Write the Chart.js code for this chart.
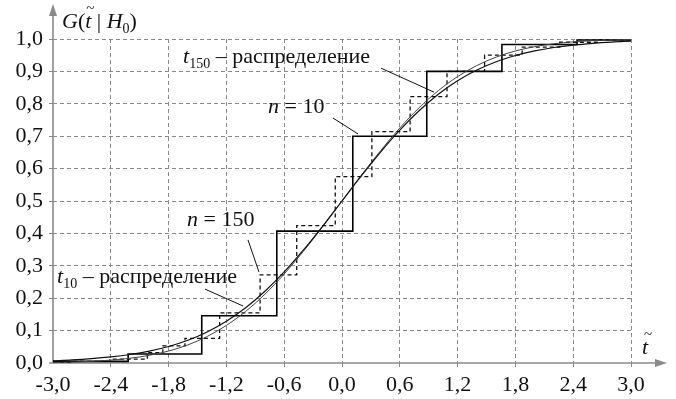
<!DOCTYPE html>
<html><head><meta charset="utf-8">
<script src="https://cdn.jsdelivr.net/npm/chart.js@4/dist/chart.umd.min.js"></script>
<style>html,body{margin:0;padding:0;background:#fff}#wrap{width:676px;height:399px;position:relative}</style>
</head><body><div id="wrap"><canvas id="c" width="676" height="399"></canvas></div>
<script>
// ---- tick labels ----
const xTickValues = [-3.0, -2.4, -1.8, -1.2, -0.6, 0.0, 0.6, 1.2, 1.8, 2.4, 3.0];
const yTickValues = [0.0, 0.1, 0.2, 0.3, 0.4, 0.5, 0.6, 0.7, 0.8, 0.9, 1.0];

// ---- smooth curves ----
const curveT = [-3.0,-2.8,-2.6,-2.4,-2.2,-2.0,-1.8,-1.6,-1.4,-1.2,-1.0,-0.8,-0.6,-0.4,-0.2,0.0,
                0.2,0.4,0.6,0.8,1.0,1.2,1.4,1.6,1.8,2.0,2.2,2.4,2.6,2.8,3.0];
const cdfT10 = [0.0067,0.0094,0.0133,0.0187,0.0262,0.0367,0.0510,0.0703,0.0959,0.1290,0.1704,0.2214,0.2810,0.3488,0.4227,0.5000,
                0.5773,0.6512,0.7190,0.7786,0.8296,0.8710,0.9041,0.9297,0.9490,0.9633,0.9738,0.9813,0.9867,0.9906,0.9933];
const cdfT150 = [0.0016,0.0029,0.0051,0.0088,0.0147,0.0237,0.0369,0.0559,0.0818,0.1160,0.1594,0.2124,0.2747,0.3449,0.4209,0.5000,
                 0.5791,0.6551,0.7253,0.7876,0.8406,0.8840,0.9182,0.9441,0.9631,0.9763,0.9853,0.9912,0.9949,0.9971,0.9984];

// ---- empirical step functions: level holds from each jump to the next ----
const n10Jumps  = [-3.0, -2.22, -1.456, -0.677, 0.112, 0.88, 1.66, 2.44, 3.0];
const n10Levels = [0.005, 0.028, 0.146, 0.407, 0.700, 0.900, 0.983, 0.997, 0.997];
const n150Jumps  = [-3.0, -2.8, -2.41, -2.02, -1.86, -1.63, -1.27, -0.85, -0.47, -0.07, 0.31, 0.707, 1.09, 1.48, 1.87, 2.26, 2.65, 3.0];
const n150Levels = [0.002, 0.005, 0.012, 0.032, 0.053, 0.076, 0.155, 0.272, 0.424, 0.575, 0.714, 0.822, 0.900, 0.950, 0.975, 0.990, 0.997, 0.997];

const SERIF = "'Liberation Serif','Times New Roman',serif";
function fmt(v){ const s = (Math.abs(v) < 1e-9 ? 0 : v).toFixed(1); return s.replace('.', ','); }
function pts(xs, ys){ return xs.map((x, i) => ({x: x, y: ys[i]})); }
// step data: value of jump i holds until jump i+1
function stepPts(xs, ys){ return xs.map((x, i) => ({x: x, y: i === 0 ? ys[0] : ys[i - 1]})); }

function drawParts(ctx, x, y, parts){
  ctx.textAlign = 'left'; ctx.textBaseline = 'alphabetic';
  for (const p of parts){
    const size = p.sub ? 14 : 22;
    ctx.font = (p.it ? 'italic ' : '') + size + 'px ' + SERIF;
    ctx.fillText(p.s, x, y + (p.sub ? 5 : 0));
    x += ctx.measureText(p.s).width;
  }
}
function arrow(ctx, x, y, dir){
  ctx.beginPath();
  if (dir === 'up'){ ctx.moveTo(x, y); ctx.lineTo(x-4, y+12); ctx.lineTo(x+4, y+12); }
  else { ctx.moveTo(x, y); ctx.lineTo(x-12, y-4); ctx.lineTo(x-12, y+4); }
  ctx.closePath(); ctx.fill();
}

const overlay = {
  id: 'overlay',
  beforeDatasetsDraw(chart){
    const {ctx, chartArea: a} = chart;
    ctx.save();
    ctx.strokeStyle = '#8a8a8a'; ctx.fillStyle = '#8a8a8a'; ctx.lineWidth = 1.6;
    ctx.beginPath(); ctx.moveTo(a.left, a.bottom); ctx.lineTo(a.left, 8); ctx.stroke();
    arrow(ctx, a.left, 4, 'up');
    ctx.beginPath(); ctx.moveTo(a.left - 4, a.bottom); ctx.lineTo(662, a.bottom); ctx.stroke();
    arrow(ctx, 667, a.bottom, 'right');
    ctx.restore();
  },
  afterDatasetsDraw(chart){
    const {ctx, chartArea: a} = chart;
    const X = v => chart.scales.x.getPixelForValue(v);
    const Y = v => chart.scales.y.getPixelForValue(v);
    ctx.save();
    ctx.strokeStyle = '#111'; ctx.lineWidth = 1;
    const leaders = [[0.405,0.910,0.955,0.836],[-0.093,0.756,0.166,0.707],[-0.976,0.380,-0.862,0.281],[-1.422,0.228,-1.028,0.176]];
    for (const l of leaders){ ctx.beginPath(); ctx.moveTo(X(l[0]), Y(l[1])); ctx.lineTo(X(l[2]), Y(l[3])); ctx.stroke(); }
    ctx.fillStyle = '#111';
    drawParts(ctx, X(-1.65), Y(0.926), [{s:'t', it:1},{s:'150', sub:1},{s:' – распределение'}]);
    drawParts(ctx, X(-0.768), Y(0.772), [{s:'n', it:1},{s:' = 10'}]);
    drawParts(ctx, X(-1.609), Y(0.423), [{s:'n', it:1},{s:' = 150'}]);
    drawParts(ctx, X(-2.958), Y(0.247), [{s:'t', it:1},{s:'10', sub:1},{s:' – распределение'}]);
    // axis titles
    const tx = a.left + 9;
    drawParts(ctx, tx, 28, [{s:'G', it:1},{s:'('},{s:'t', it:1},{s:' | '},{s:'H', it:1},{s:'0', sub:1},{s:')'}]);
    ctx.font = 'italic 22px ' + SERIF;
    const gw = ctx.measureText('G').width; ctx.font = '22px ' + SERIF; const pw = ctx.measureText('(').width;
    ctx.font = '15px ' + SERIF; ctx.textAlign = 'center';
    ctx.fillText('~', tx + gw + pw + 5, 13);
    drawParts(ctx, 642, 354, [{s:'t', it:1}]);
    ctx.font = '15px ' + SERIF; ctx.textAlign = 'center';
    ctx.fillText('~', 648, 339);
    ctx.restore();
  }
};

new Chart(document.getElementById('c'), {
  type: 'line',
  data: {
    datasets: [
      { label: 't10', data: pts(curveT, cdfT10), borderColor: '#111', borderWidth: 1.2, pointRadius: 0, cubicInterpolationMode: 'monotone' },
      { label: 't150', data: pts(curveT, cdfT150), borderColor: '#444', borderWidth: 1, pointRadius: 0, cubicInterpolationMode: 'monotone' },
      { label: 'n=10', data: pts(n10Jumps, n10Levels), stepped: 'before', borderColor: '#000', borderWidth: 1.6, pointRadius: 0 },
      { label: 'n=150', data: pts(n150Jumps, n150Levels), stepped: 'before', borderColor: '#111', borderWidth: 1.3, borderDash: [4, 3], pointRadius: 0 }
    ]
  },
  options: {
    responsive: false, animation: false, devicePixelRatio: 1,
    layout: { padding: { top: 39, right: 45, left: 0, bottom: 0 } },
    plugins: { legend: { display: false }, tooltip: { enabled: false } },
    scales: {
      x: {
        type: 'linear', min: -3, max: 3,
        afterBuildTicks(s){ s.ticks = xTickValues.map(v => ({value: v})); },
        afterFit(s){ s.height = 36; },
        grid: { color: c => (c.tick && Math.abs(c.tick.value + 3) < 1e-9) ? 'rgba(0,0,0,0)' : '#8a8a8a', lineWidth: 1, tickLength: 5, tickBorderDash: [4, 3] },
        border: { display: false, dash: [4, 3] },
        ticks: { font: { family: SERIF, size: 22 }, color: '#111', padding: 4, maxRotation: 0, autoSkip: false, callback: v => fmt(v) }
      },
      y: {
        type: 'linear', min: 0, max: 1,
        afterBuildTicks(s){ s.ticks = yTickValues.map(v => ({value: v})); },
        afterFit(s){ s.width = 53; },
        grid: { color: c => (c.tick && Math.abs(c.tick.value) < 1e-9) ? 'rgba(0,0,0,0)' : '#8a8a8a', lineWidth: 1, tickLength: 4, tickBorderDash: [4, 3] },
        border: { display: false, dash: [4, 3] },
        ticks: { font: { family: SERIF, size: 22 }, color: '#111', padding: 6, autoSkip: false, callback: v => fmt(v) }
      }
    }
  },
  plugins: [overlay]
});
</script></body></html>
